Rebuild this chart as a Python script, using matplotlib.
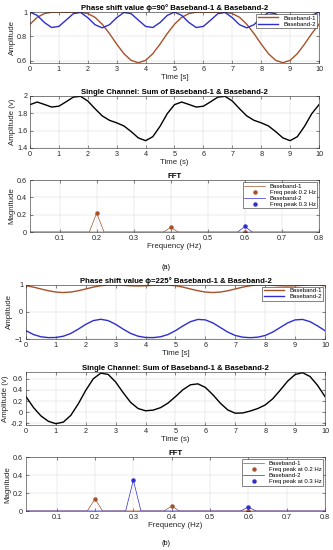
import numpy as np
import matplotlib
matplotlib.use("Agg")
import matplotlib.pyplot as plt

plt.rcParams['font.family'] = ['Liberation Sans', 'DejaVu Sans']

# time samples (s), 0.25 s apart
t = np.linspace(0, 10, 41)

# (a) phase shift 90 deg
bb1_a = [0.900, 0.957, 0.988, 0.999, 1.000, 0.999, 1.000, 0.999, 0.988, 0.957,
         0.900, 0.823, 0.736, 0.657, 0.602, 0.582, 0.602, 0.657, 0.736, 0.823,
         0.900, 0.957, 0.988, 0.999, 1.000, 0.999, 1.000, 0.999, 0.988, 0.957,
         0.900, 0.823, 0.736, 0.657, 0.602, 0.582, 0.602, 0.657, 0.736, 0.823,
         0.900]
bb2_a = [1.000, 0.973, 0.914, 0.873, 0.882, 0.934, 0.987, 0.997, 0.954, 0.896,
         0.870, 0.896, 0.954, 0.997, 0.987, 0.934, 0.882, 0.873, 0.914, 0.973,
         1.000, 0.973, 0.914, 0.873, 0.882, 0.934, 0.987, 0.997, 0.954, 0.896,
         0.870, 0.896, 0.954, 0.997, 0.987, 0.934, 0.882, 0.873, 0.914, 0.973,
         1.000]

# (b) phase shift 225 deg
bb1_b = [0.970, 0.918, 0.850, 0.784, 0.736, 0.718, 0.736, 0.784, 0.850, 0.918,
         0.970, 0.997, 0.998, 0.984, 0.968, 0.961, 0.968, 0.984, 0.998, 0.997,
         0.970, 0.918, 0.850, 0.784, 0.736, 0.718, 0.736, 0.784, 0.850, 0.918,
         0.970, 0.997, 0.998, 0.984, 0.968, 0.961, 0.968, 0.984, 0.998, 0.997,
         0.970]
bb2_b = [-0.691, -0.834, -0.917, -0.948, -0.943, -0.896, -0.793, -0.634, -0.458, -0.320,
         -0.270, -0.320, -0.458, -0.634, -0.793, -0.896, -0.943, -0.948, -0.917, -0.834,
         -0.691, -0.515, -0.359, -0.276, -0.293, -0.405, -0.575, -0.745, -0.869, -0.932,
         -0.950, -0.932, -0.869, -0.745, -0.575, -0.405, -0.293, -0.276, -0.359, -0.515,
         -0.691]

# FFT spectra (Hz, magnitude)
fft_freq = [0.02, 0.18, 0.20, 0.22, 0.28, 0.30, 0.32, 0.38, 0.40, 0.42, 0.58, 0.60, 0.62, 0.80]
fft1_a = [0, 0, 0.22, 0, 0, 0, 0, 0, 0.055, 0, 0, 0.0, 0, 0]
fft2_a = [0, 0, 0, 0, 0, 0, 0, 0, 0, 0, 0, 0.065, 0, 0]
fft1_b = [0, 0, 0.135, 0, 0, 0, 0, 0, 0.055, 0, 0, 0.0, 0, 0]
fft2_b = [0, 0, 0, 0, 0, 0.345, 0, 0, 0, 0, 0, 0.045, 0, 0]
peaks1_a = ([0.2, 0.4, 0.6], [0.22, 0.055, 0.0])
peaks2_a = ([0.6], [0.065])
peaks1_b = ([0.2, 0.4, 0.6], [0.135, 0.055, 0.0])
peaks2_b = ([0.3, 0.6], [0.345, 0.045])

BROWN = '#A5522A'
BLUE = '#2E2ECF'
AXC = '#262626'
FS = 5.2


def style(ax):
    ax.tick_params(direction='in', length=2, width=0.4, labelsize=FS, pad=2,
                   colors=AXC, top=True, right=True)
    for s in ax.spines.values():
        s.set_linewidth(0.4)
        s.set_color(AXC)
    ax.grid(True, color='#d9d9d9', linewidth=0.35)
    ax.set_axisbelow(True)


def legend(ax, **kw):
    lg = ax.legend(fontsize=4.3, loc='upper right', fancybox=False, framealpha=1,
                   edgecolor=AXC, handlelength=3.5, borderpad=0.25, labelspacing=0.15,
                   handletextpad=0.8, borderaxespad=0.3, **kw)
    lg.get_frame().set_linewidth(0.4)


def time_panel(ax, b1, b2, title, ylim, yticks):
    ax.plot(t, b1, color=BROWN, lw=1.0, label='Baseband-1')
    ax.plot(t, b2, color=BLUE, lw=1.0, label='Baseband-2')
    ax.set_xlim(0, 10)
    ax.set_ylim(*ylim)
    ax.set_xticks(range(11))
    ax.set_yticks(yticks)
    ax.set_title(title, fontsize=5.6, fontweight='bold', pad=1.5)
    ax.set_xlabel('Time [s]', fontsize=FS + 0.5, labelpad=1, color=AXC)
    ax.set_ylabel('Amplitude', fontsize=FS + 0.5, labelpad=1, color=AXC)
    style(ax)
    legend(ax)


def sum_panel(ax, b1, b2, ylim, yticks):
    total = np.array(b1) + np.array(b2)
    ax.plot(t, total, color='black', lw=1.0)
    ax.set_xlim(0, 10)
    ax.set_ylim(*ylim)
    ax.set_xticks(range(11))
    ax.set_yticks(yticks)
    ax.set_title('Single Channel: Sum of Baseband-1 & Baseband-2', fontsize=5.6,
                 fontweight='bold', pad=1.5)
    ax.set_xlabel('Time (s)', fontsize=FS + 0.5, labelpad=1, color=AXC)
    ax.set_ylabel('Amplitude (v)', fontsize=FS + 0.5, labelpad=1, color=AXC)
    style(ax)


def fft_panel(ax, f1, f2, p1, p2, lab1, lab2):
    ax.plot(fft_freq, f1, color=BROWN, lw=0.5, label='Baseband-1')
    ax.plot(p1[0], p1[1], 'o', color=BROWN, ms=2.2, ls='none', label=lab1)
    ax.plot(fft_freq, f2, color=BLUE, lw=0.5, label='Baseband-2')
    ax.plot(p2[0], p2[1], 'o', color=BLUE, ms=2.2, ls='none', label=lab2)
    ax.set_xlim(0.02, 0.8)
    ax.set_ylim(0, 0.6)
    ax.set_xticks([0.1, 0.2, 0.3, 0.4, 0.5, 0.6, 0.7, 0.8])
    ax.set_xticklabels(['0.1', '0.2', '0.3', '0.4', '0.5', '0.6', '0.7', '0.8'])
    ax.set_yticks([0, 0.2, 0.4, 0.6])
    ax.set_yticklabels(['0', '0.2', '0.4', '0.6'])
    ax.set_title('FFT', fontsize=5.6, fontweight='bold', pad=1.5)
    ax.set_xlabel('Frequency (Hz)', fontsize=FS + 0.5, labelpad=1, color=AXC)
    ax.set_ylabel('Magnitude', fontsize=FS + 0.5, labelpad=1, color=AXC)
    style(ax)
    legend(ax)


fig = plt.figure(figsize=(3.33, 5.5), dpi=100)

ax1 = fig.add_axes([0.090, 0.885, 0.868, 0.093])
time_panel(ax1, bb1_a, bb2_a, 'Phase shift value ϕ=90° Baseband-1 & Baseband-2',
           (0.578, 1.0), [0.6, 0.8, 1.0])
ax1.set_yticklabels(['0.6', '0.8', '1'])

ax2 = fig.add_axes([0.090, 0.731, 0.868, 0.0945])
sum_panel(ax2, bb1_a, bb2_a, (1.4, 2.0), [1.4, 1.6, 1.8, 2.0])
ax2.set_yticklabels(['1.4', '1.6', '1.8', '2'])

ax3 = fig.add_axes([0.090, 0.578, 0.868, 0.0945])
fft_panel(ax3, fft1_a, fft2_a, peaks1_a, peaks2_a, 'Freq peak 0.2 Hz', 'Freq peak 0.3 Hz')

fig.text(0.5, 0.5145, '(a)', ha='center', va='center', fontsize=5.2)

ax4 = fig.add_axes([0.078, 0.3836, 0.898, 0.0984])
time_panel(ax4, bb1_b, bb2_b, 'Phase shift value ϕ=225° Baseband-1 & Baseband-2',
           (-1.0, 1.0), [-1, 0, 1])

ax5 = fig.add_axes([0.078, 0.2273, 0.898, 0.0963])
sum_panel(ax5, bb1_b, bb2_b, (-0.23, 0.72), [-0.2, 0, 0.2, 0.4, 0.6])
ax5.set_yticklabels(['-0.2', '0', '0.2', '0.4', '0.6'])

ax6 = fig.add_axes([0.078, 0.0709, 0.898, 0.0976])
fft_panel(ax6, fft1_b, fft2_b, peaks1_b, peaks2_b, 'Freq peak at 0.2 Hz', 'Freq peak at 0.3 Hz')

fig.text(0.5, 0.011, '(b)', ha='center', va='center', fontsize=5.2)

fig.savefig('out.png', dpi=100)
